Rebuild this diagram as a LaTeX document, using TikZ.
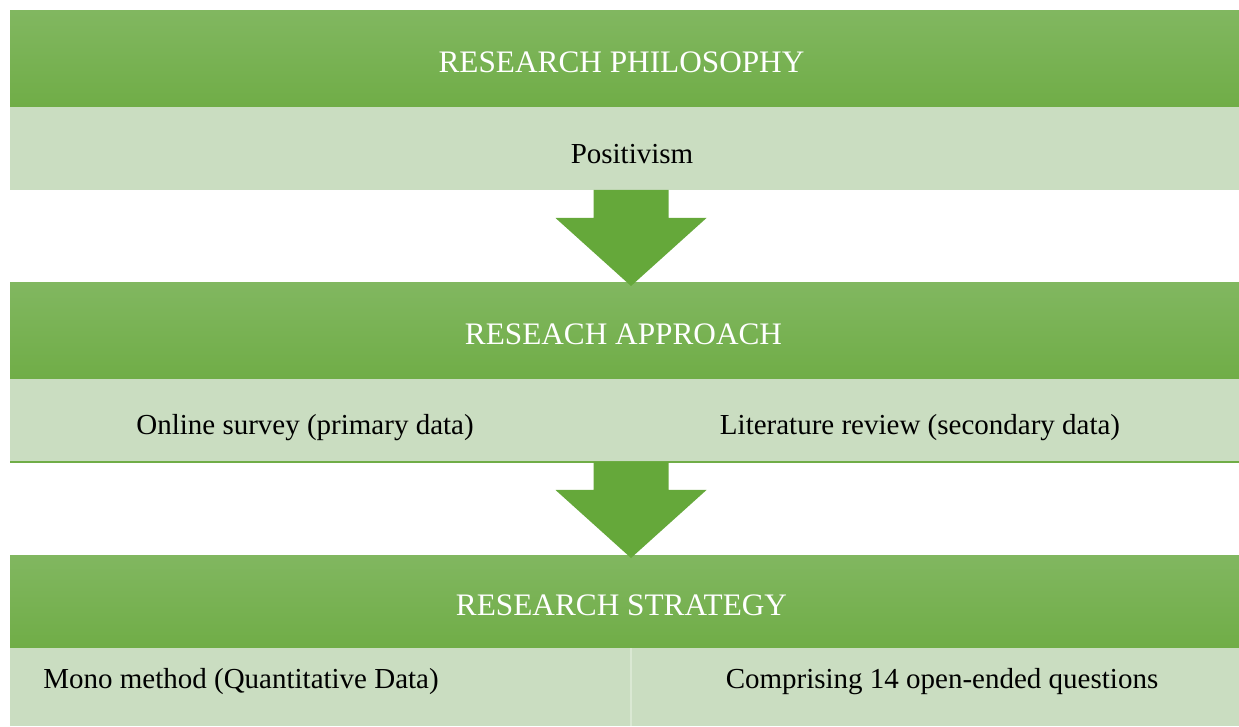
\documentclass[tikz,border=0pt]{standalone}
\usepackage{fontspec}
\setmainfont{Liberation Serif}
\usepackage{xcolor}
\usetikzlibrary{calc,positioning}
\definecolor{cHead}{RGB}{112,173,71}
\definecolor{cHeadTop}{RGB}{129,183,96}
\definecolor{cBand}{RGB}{202,221,193}
\definecolor{cArrow}{RGB}{101,168,58}
\definecolor{cRule}{RGB}{218,232,211}

\begin{document}
\begin{tikzpicture}[
  head/.style={top color=cHeadTop,bottom color=cHead,minimum width=24.58cm,
    minimum height=1.92cm,inner sep=0pt,outer sep=0pt,anchor=north west},
  band/.style={fill=cBand,minimum width=24.58cm,minimum height=1.66cm,
    inner sep=0pt,outer sep=0pt},
  htxt/.style={white,font=\fontsize{17.8}{21}\selectfont,anchor=base,inner sep=0pt},
  btxt/.style={black,font=\fontsize{16.5}{20}\selectfont,anchor=base,inner sep=0pt},
  blockarrow/.style={fill=cArrow}]
  \useasboundingbox (0,0) rectangle (24.78,14.52);
  \coordinate (mid) at (12.62,0);

  % philosophy
  \node[head] (head1) at (0.2,14.30) {};
  \node[band,below=0pt of head1] (band1) {};
  % approach
  \node[head] (head2) at (0.2,8.86) {};
  \node[band,below=0pt of head2] (band2) {};
  \draw[cHead,line width=0.8pt] (band2.south west) -- (band2.south east);
  % strategy
  \node[head,minimum height=1.86cm] (head3) at (0.2,3.42) {};
  \node[band,minimum height=1.56cm,below=0pt of head3] (band3) {};
  \draw[cRule,line width=0.8pt] (band3.north -| mid) -- (band3.south -| mid);

  % block arrows between the stages
  \foreach \src in {band1,band2}
    \fill[blockarrow] (\src.south -| mid) ++(-0.75,0) -- ++(1.5,0) -- ++(0,-0.56)
      -- ++(0.76,0) -- ++(-1.51,-1.36) -- ++(-1.51,1.36) -- ++(0.76,0) -- cycle;

  % labels
  \node[htxt] (tPhil) at (12.43,13.06) {RESEARCH PHILOSOPHY};
  \node[btxt] (tPos) at (12.64,11.24) {Positivism};
  \node[htxt] (tAppr) at (12.47,7.62) {RESEACH APPROACH};
  \node[btxt] (tSurvey) at (6.10,5.82) {Online survey (primary data)};
  \node[btxt] (tLit) at (18.40,5.82) {Literature review (secondary data)};
  \node[htxt] (tStrat) at (12.43,2.21) {RESEARCH STRATEGY};
  \node[btxt,anchor=base west] (tMono) at (0.86,0.76) {Mono method (Quantitative Data)};
  \node[btxt] (tQues) at (18.84,0.76) {Comprising 14 open-ended questions};
\end{tikzpicture}
\end{document}
